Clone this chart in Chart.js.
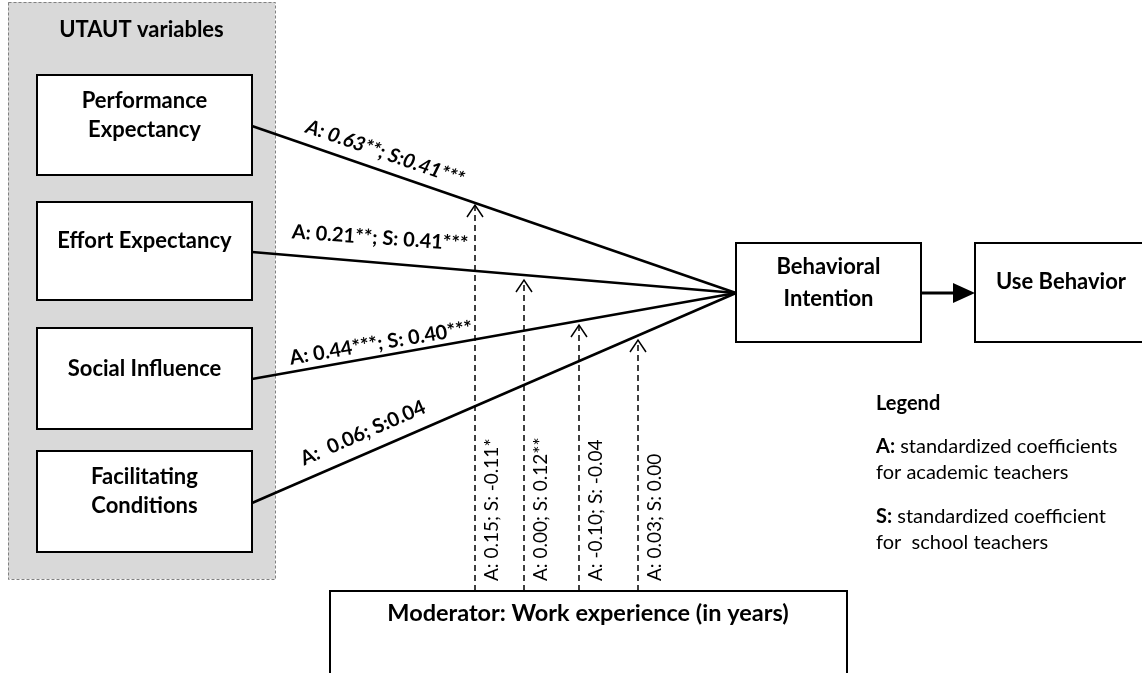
<!DOCTYPE html>
<html>
<head>
<meta charset="utf-8">
<script src="https://cdn.jsdelivr.net/npm/chart.js@4"></script>
<style>
    html, body { margin: 0; padding: 0; background: #fff; }
    canvas { display: block; }
</style>
</head>
<body>
<canvas id="diagram" width="1142" height="673"></canvas>
<script>
// Diagram content
const groupTitle = 'UTAUT variables';
const constructs = ['Performance\nExpectancy', 'Effort Expectancy', 'Social Influence', 'Facilitating\nConditions'];
const pathLabels = ['A: 0.63**; S:0.41***', 'A: 0.21**; S: 0.41***', 'A: 0.44***; S: 0.40***', 'A:  0.06; S:0.04'];
const moderatorLabels = ['A: 0.15; S: -0.11*', 'A: 0.00; S: 0.12**', 'A: -0.10; S: -0.04', 'A: 0.03; S: 0.00'];
const outcomes = ['Behavioral\nIntention', 'Use Behavior'];
const moderatorTitle = 'Moderator: Work experience (in years)';
const legendTitle = 'Legend';
const legendItems = [
    ['A:', ' standardized coefficients', 'for academic teachers'],
    ['S:', ' standardized coefficient', 'for  school teachers']
];

// Layout (pixels in a 1142 x 673 frame)
const groupRect = [8, 2, 275, 579];
const boxX = [37, 252];
const boxY = [[75, 175], [202, 300], [328, 429], [451, 552]];
const pathStartY = [126, 252, 379, 503];
const hub = [736, 293];
const biRect = [736, 243, 921, 342];
const ubRect = [975, 243, 1160, 342];
const modRect = [330, 591, 847, 700];
const modX = [475, 524, 579, 638];
const modTopY = [205, 280, 325, 340];
const labelPos = [[385, 153, 19.0, true], [380, 238, 4.0, false], [381, 343, -9.5, false], [363, 433, -23.5, false]];

const FONT = 'Lato, "Open Sans", sans-serif';

const datasets = [];
constructs.forEach((c, i) => {
    datasets.push({
        data: [{ x: boxX[1], y: pathStartY[i] }, { x: hub[0], y: hub[1] }],
        borderColor: '#000', borderWidth: 2.5
    });
});
datasets.push({
    data: [{ x: biRect[2], y: hub[1] }, { x: 958, y: hub[1] }],
    borderColor: '#000', borderWidth: 3
});
modX.forEach((x, i) => {
    datasets.push({
        data: [{ x: x, y: modRect[1] }, { x: x, y: modTopY[i] }],
        borderColor: '#000', borderWidth: 1.5, borderDash: [6, 4]
    });
});
datasets.forEach(d => { d.showLine = true; d.pointRadius = 0; d.fill = false; });

function px(chart, x, y) {
    return [chart.scales.x.getPixelForValue(x), chart.scales.y.getPixelForValue(y)];
}

function rectPx(chart, r) {
    const a = px(chart, r[0], r[1]);
    const b = px(chart, r[2], r[3]);
    return [a[0], a[1], b[0] - a[0], b[1] - a[1]];
}

function drawLines(ctx, text, cx, cy, lh) {
    const lines = text.split('\n');
    const top = cy - (lines.length - 1) * lh / 2;
    lines.forEach((l, i) => ctx.fillText(l, cx, top + i * lh));
}

const diagramPlugin = {
    id: 'diagram',
    beforeDatasetsDraw(chart) {
        const ctx = chart.ctx;
        ctx.save();
        // grey group
        const g = rectPx(chart, groupRect);
        ctx.fillStyle = '#d9d9d9';
        ctx.fillRect(g[0], g[1], g[2], g[3]);
        ctx.setLineDash([3, 2]);
        ctx.strokeStyle = '#808080';
        ctx.lineWidth = 1;
        ctx.strokeRect(g[0] + 0.5, g[1] + 0.5, g[2], g[3]);
        ctx.setLineDash([]);

        ctx.strokeStyle = '#000';
        ctx.lineWidth = 2;
        ctx.fillStyle = '#fff';
        boxY.forEach(yy => {
            const r = rectPx(chart, [boxX[0], yy[0], boxX[1], yy[1]]);
            ctx.fillRect(r[0], r[1], r[2], r[3]);
            ctx.strokeRect(r[0], r[1], r[2], r[3]);
        });
        [biRect, ubRect, modRect].forEach(rr => {
            const r = rectPx(chart, rr);
            ctx.fillRect(r[0], r[1], r[2], r[3]);
            ctx.strokeRect(r[0], r[1], r[2], r[3]);
        });
        ctx.restore();
    },
    afterDatasetsDraw(chart) {
        const ctx = chart.ctx;
        ctx.save();
        ctx.fillStyle = '#000';
        ctx.strokeStyle = '#000';
        ctx.textAlign = 'center';
        ctx.textBaseline = 'middle';

        // titles and box texts
        ctx.font = 'bold 22px ' + FONT;
        let p = px(chart, (groupRect[0] + groupRect[2]) / 2, 30);
        ctx.fillText(groupTitle, p[0], p[1]);
        constructs.forEach((c, i) => {
            const q = px(chart, (boxX[0] + boxX[1]) / 2, (boxY[i][0] + boxY[i][1]) / 2 - 10);
            drawLines(ctx, c, q[0], q[1], 29);
        });
        p = px(chart, (biRect[0] + biRect[2]) / 2, (biRect[1] + biRect[3]) / 2 - 10);
        drawLines(ctx, outcomes[0], p[0], p[1], 32);
        p = px(chart, 1061, 282);
        ctx.fillText(outcomes[1], p[0], p[1]);
        ctx.font = 'bold 23.5px ' + FONT;
        p = px(chart, 588, 613);
        ctx.fillText(moderatorTitle, p[0], p[1]);

        // arrowhead to Use Behavior
        const t0 = px(chart, 953, hub[1] - 10), t1 = px(chart, ubRect[0], hub[1]), t2 = px(chart, 953, hub[1] + 10);
        ctx.beginPath();
        ctx.moveTo(t0[0], t0[1]); ctx.lineTo(t1[0], t1[1]); ctx.lineTo(t2[0], t2[1]);
        ctx.closePath();
        ctx.fill();

        // open arrowheads on moderator lines
        ctx.lineWidth = 1.5;
        modX.forEach((x, i) => {
            const a = px(chart, x - 8, modTopY[i] + 12), b = px(chart, x, modTopY[i]), c = px(chart, x + 8, modTopY[i] + 12);
            ctx.beginPath();
            ctx.moveTo(a[0], a[1]); ctx.lineTo(b[0], b[1]); ctx.lineTo(c[0], c[1]);
            ctx.stroke();
        });

        // path coefficient labels
        pathLabels.forEach((t, i) => {
            const lp = labelPos[i];
            const q = px(chart, lp[0], lp[1]);
            ctx.save();
            ctx.translate(q[0], q[1]);
            ctx.rotate(lp[2] * Math.PI / 180);
            ctx.font = (lp[3] ? 'italic ' : '') + 'bold 20px ' + FONT;
            ctx.fillText(t, 0, 0);
            ctx.restore();
        });

        // moderator labels (vertical)
        ctx.font = '19px ' + FONT;
        ctx.textAlign = 'left';
        moderatorLabels.forEach((t, i) => {
            const q = px(chart, modX[i] + 17, 581);
            ctx.save();
            ctx.translate(q[0], q[1]);
            ctx.rotate(-Math.PI / 2);
            ctx.fillText(t, 0, 0);
            ctx.restore();
        });

        // legend
        ctx.font = 'bold 20px ' + FONT;
        p = px(chart, 876, 404);
        ctx.fillText(legendTitle, p[0], p[1]);
        legendItems.forEach((item, i) => {
            const y0 = 447 + i * 70;
            const a = px(chart, 876, y0);
            ctx.font = 'bold 20px ' + FONT;
            ctx.fillText(item[0], a[0], a[1]);
            const w = ctx.measureText(item[0]).width;
            ctx.font = '20px ' + FONT;
            ctx.fillText(item[1], a[0] + w, a[1]);
            const b = px(chart, 876, y0 + 26);
            ctx.fillText(item[2], b[0], b[1]);
        });
        ctx.restore();
    }
};

new Chart(document.getElementById('diagram'), {
    type: 'scatter',
    data: { datasets },
    options: {
        responsive: false,
        animation: false,
        devicePixelRatio: 1,
        layout: { padding: 0 },
        plugins: { legend: { display: false }, tooltip: { enabled: false } },
        scales: {
            x: { type: 'linear', min: 0, max: 1142, display: false },
            y: { type: 'linear', min: 0, max: 673, reverse: true, display: false }
        }
    },
    plugins: [diagramPlugin]
});
</script>
</body>
</html>
